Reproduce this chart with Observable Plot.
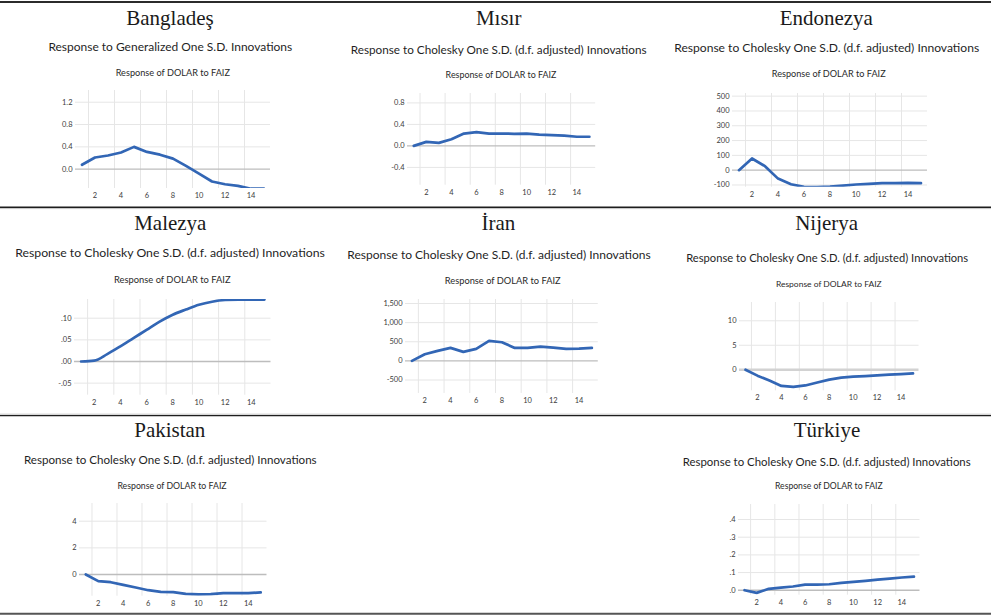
<!DOCTYPE html>
<html>
<head>
<meta charset="utf-8">
<script src="https://cdn.jsdelivr.net/npm/d3@7"></script>
<script src="https://cdn.jsdelivr.net/npm/@observablehq/plot@0.6"></script>
<style>
  html, body { margin: 0; padding: 0; background: #ffffff; }
  #fig { position: relative; width: 991px; height: 616px; overflow: hidden; }
  #fig svg.panel { position: absolute; overflow: visible; }
</style>
</head>
<body>
<div id="fig"></div>
<script>
// Impulse-response horizon (periods 1..15)
const periods = [1, 2, 3, 4, 5, 6, 7, 8, 9, 10, 11, 12, 13, 14, 15];
const periodTicks = [2, 4, 6, 8, 10, 12, 14];

// Response of DOLAR to FAIZ, by country
const bangladesValues = [0.08, 0.21, 0.245, 0.30, 0.40, 0.31, 0.26, 0.19, 0.06, -0.08, -0.22, -0.27, -0.30, -0.35, -0.35];
const misirValues     = [0.0, 0.075, 0.056, 0.125, 0.23, 0.255, 0.23, 0.23, 0.225, 0.23, 0.21, 0.20, 0.19, 0.17, 0.17];
const endonezyaValues = [0, 79, 27, -57, -95, -113, -115, -111, -104, -97, -93, -88, -88, -86, -88];
const malezyaValues   = [0.0, 0.002, 0.017, 0.035, 0.054, 0.073, 0.092, 0.108, 0.120, 0.131, 0.138, 0.142, 0.143, 0.143, 0.143];
const iranValues      = [0, 174, 261, 339, 235, 313, 522, 487, 339, 339, 374, 348, 313, 322, 339];
const nijeryaValues   = [0, -1.2, -2.2, -3.3, -3.5, -3.2, -2.6, -2.0, -1.6, -1.4, -1.3, -1.15, -1.0, -0.9, -0.75];
const pakistanValues  = [0, -0.5, -0.58, -0.78, -0.98, -1.18, -1.3, -1.33, -1.45, -1.5, -1.48, -1.4, -1.4, -1.4, -1.35];
const turkiyeValues   = [0, -0.015, 0.008, 0.015, 0.021, 0.032, 0.032, 0.034, 0.042, 0.047, 0.053, 0.06, 0.066, 0.072, 0.077];

// Y tick values per country
const bangladesTicks = [0, 0.4, 0.8, 1.2];
const misirTicks     = [-0.4, 0, 0.4, 0.8];
const endonezyaTicks = [-100, 0, 100, 200, 300, 400, 500];
const malezyaTicks   = [-0.05, 0, 0.05, 0.10];
const iranTicks      = [-500, 0, 500, 1000, 1500];
const nijeryaTicks   = [0, 5, 10];
const pakistanTicks  = [0, 2, 4];
const turkiyeTicks   = [0, 0.1, 0.2, 0.3, 0.4];

// Headings
const countries = ["Bangladeş", "Mısır", "Endonezya", "Malezya", "İran", "Nijerya", "Pakistan", "Türkiye"];
const generalizedTitle = "Response to Generalized One S.D. Innovations";
const choleskyTitle = "Response to Cholesky One S.D. (d.f. adjusted) Innovations";
const responseTitle = "Response of DOLAR to FAIZ";

// Tick label formats (hyphen-minus, no leading zero where the axis omits it)
const hyphen = s => s.replace("\u2212", "-");
const f1 = v => hyphen(d3.format(".1f")(v));
const fInt = v => hyphen(d3.format(",")(v));
const f2NoLead = v => hyphen(d3.format(".2f")(v)).replace(/^(-?)0\./, "$1.");
const f1NoLead = v => hyphen(d3.format(".1f")(v)).replace(/^(-?)0\./, "$1.");

const lineColor = "#3266b5";
const gridColor = "#e6e6e6";
const zeroColor = "#bdbdbd";

// Panel layout: plot frame [left, right, top, bottom] in page pixels, y domain,
// plus heading positions (centre x, baseline y, fitted width).
const panels = [
  { name: countries[0], sub: generalizedTitle, values: bangladesValues, ticks: bangladesTicks, fmt: f1,
    frame: [75.3, 270.3, 90, 188], domain: [-0.346, 1.41],
    title: [170, 25], subPos: [170.3, 50.7, 244], respPos: [172.8, 75.7, 114.3] },
  { name: countries[1], sub: choleskyTitle, values: misirValues, ticks: misirTicks, fmt: f1,
    frame: [406.8, 595, 93.3, 185], domain: [-0.731, 0.975],
    title: [498.7, 24.5], subPos: [498.7, 54, 296], respPos: [501, 77.7, 111] },
  { name: countries[2], sub: choleskyTitle, values: endonezyaValues, ticks: endonezyaTicks, fmt: fInt,
    frame: [732, 927, 93.3, 187], domain: [-115, 518],
    title: [826.3, 24.5], subPos: [826.7, 51.7, 305.3], respPos: [828.7, 76.7, 114] },
  { name: countries[3], sub: choleskyTitle, values: malezyaValues, ticks: malezyaTicks, fmt: f2NoLead,
    frame: [74.2, 270.7, 299.3, 395], domain: [-0.0778, 0.1432], curve: "monotone-x",
    title: [170.3, 230], subPos: [170, 256.7, 310], respPos: [172.3, 283.3, 116.7] },
  { name: countries[4], sub: choleskyTitle, values: iranValues, ticks: iranTicks, fmt: fInt,
    frame: [404.8, 597.6, 299.3, 393.3], domain: [-852, 1604],
    title: [498.3, 230], subPos: [499, 259.3, 303.3], respPos: [502.7, 284, 116] },
  { name: countries[5], sub: choleskyTitle, values: nijeryaValues, ticks: nijeryaTicks, fmt: fInt,
    frame: [739, 918.5, 301.7, 390], domain: [-4.29, 13.73], zeroWidth: 2.4, zeroStroke: "#d2d2d2",
    title: [826.7, 230], subPos: [827.2, 262.3, 282.3], respPos: [828.8, 287.3, 105.7] },
  { name: countries[6], sub: choleskyTitle, values: pakistanValues, ticks: pakistanTicks, fmt: fInt,
    frame: [78.5, 266, 503.3, 596], domain: [-1.63, 5.33],
    title: [169.8, 437.3], subPos: [170.3, 464, 292.7], respPos: [172, 489, 109.3] },
  { name: countries[7], sub: choleskyTitle, values: turkiyeValues, ticks: turkiyeTicks, fmt: f1NoLead,
    frame: [737.9, 919.4, 504.3, 595], domain: [-0.028, 0.485],
    title: [827, 437.3], subPos: [826.7, 465.7, 288], respPos: [828.8, 489, 107.7] }
];

const fig = document.getElementById("fig");

// Page furniture: table rules and headings
const overlay = d3.create("svg")
  .attr("width", 991).attr("height", 616)
  .style("position", "absolute").style("left", "0px").style("top", "0px");

const rules = [
  { y: 2, w: 2, c: "#2b2b2b" },
  { y: 207.3, w: 1.4, c: "#1e1e1e" },
  { y: 208.6, w: 1, c: "#c4c4c4" },
  { y: 414.2, w: 1, c: "#c4c4c4" },
  { y: 415.6, w: 1.4, c: "#1e1e1e" },
  { y: 613.8, w: 2, c: "#555555" }
];
overlay.selectAll("line.rule").data(rules).join("line")
  .attr("class", "rule")
  .attr("x1", 0).attr("x2", 991)
  .attr("y1", d => d.y).attr("y2", d => d.y)
  .attr("stroke", d => d.c).attr("stroke-width", d => d.w);

fig.appendChild(overlay.node());

const fitted = [];
for (const p of panels) {
  overlay.append("text")
    .attr("x", p.title[0]).attr("y", p.title[1])
    .attr("text-anchor", "middle")
    .attr("font-family", "'Liberation Serif', 'Times New Roman', serif")
    .attr("font-size", 21).attr("fill", "#1a1a1a")
    .text(p.name);
  const s = overlay.append("text")
    .attr("x", p.subPos[0]).attr("y", p.subPos[1])
    .attr("text-anchor", "middle")
    .attr("font-family", "Lato, 'Open Sans', sans-serif")
    .attr("font-size", 12).attr("fill", "#1f1f1f")
    .text(p.sub);
  fitted.push([s, p.subPos[2]]);
  const r = overlay.append("text")
    .attr("x", p.respPos[0]).attr("y", p.respPos[1])
    .attr("text-anchor", "middle")
    .attr("font-family", "Lato, 'Open Sans', sans-serif")
    .attr("font-size", 9).attr("fill", "#2a2a2a")
    .text(responseTitle);
  fitted.push([r, p.respPos[2]]);
}
// Size each heading so it spans its column width
for (const [sel, target] of fitted) {
  const base = +sel.attr("font-size");
  const len = sel.node().getComputedTextLength();
  if (len > 0) sel.attr("font-size", (base * target / len).toFixed(2));
}

// One Plot chart per country
const gridX = periodTicks.map(t => t - 0.5);
const mL = 40, mR = 6, mT = 4, mB = 16;

for (const p of panels) {
  const [x0, x1, yt, yb] = p.frame;
  const data = periods.map((period, i) => ({ period, value: p.values[i] }));
  const chart = Plot.plot({
    width: (x1 - x0) + mL + mR,
    height: (yb - yt) + mT + mB,
    marginLeft: mL, marginRight: mR, marginTop: mT, marginBottom: mB,
    style: { fontFamily: "Lato, 'Open Sans', sans-serif", fontSize: "7.5px", color: "#3c3c3c", background: "transparent" },
    x: { domain: [0.5, 15.5], ticks: periodTicks, tickSize: 0, tickPadding: 4, label: null, tickFormat: d => String(d) },
    y: { domain: p.domain, ticks: p.ticks, tickSize: 0, tickPadding: 3, label: null, tickFormat: p.fmt },
    marks: [
      Plot.ruleY(p.ticks.filter(t => t !== 0), { stroke: gridColor, strokeWidth: 1 }),
      Plot.ruleX(gridX, { stroke: gridColor, strokeWidth: 1 }),
      Plot.ruleY([0], { stroke: p.zeroStroke || zeroColor, strokeWidth: p.zeroWidth || 1.3 }),
      Plot.line(data, { x: "period", y: "value", stroke: lineColor, strokeWidth: 2.7, curve: p.curve || "linear", clip: true })
    ]
  });
  chart.classList.add("panel");
  chart.style.left = (x0 - mL) + "px";
  chart.style.top = (yt - mT) + "px";
  fig.appendChild(chart);
}
</script>
</body>
</html>
